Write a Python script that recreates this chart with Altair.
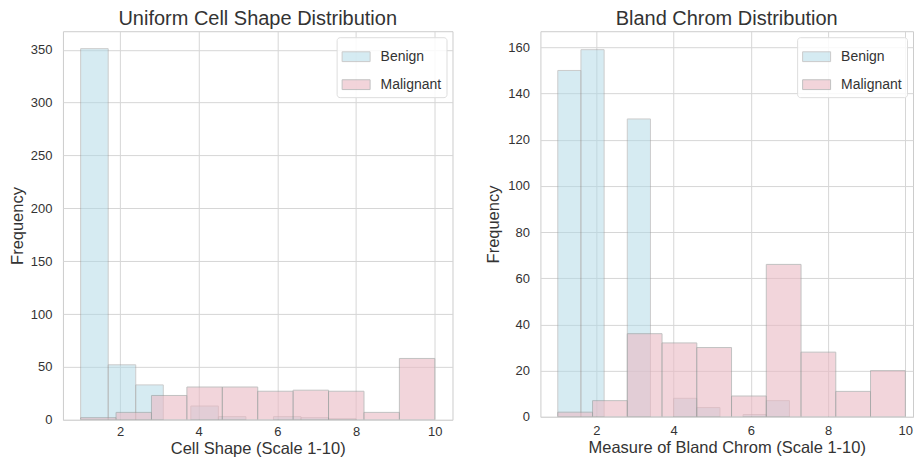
import altair as alt
import pandas as pd

# ---------------- data ----------------
status_names = ["Benign", "Malignant"]
status_colors = ["#add8e6", "#eab9c3"]
status_alpha = [0.5, 0.6]

# Uniform Cell Shape
shape_benign_edges = [1.0, 1.7, 2.4, 3.1, 3.8, 4.5, 5.2, 5.9, 6.6, 7.3, 8.0]
shape_benign_counts = [351, 52, 33, 0, 13, 3, 0, 3, 2, 1]
shape_malignant_edges = [1.0, 1.9, 2.8, 3.7, 4.6, 5.5, 6.4, 7.3, 8.2, 9.1, 10.0]
shape_malignant_counts = [2, 7, 23, 31, 31, 27, 28, 27, 7, 58]

# Bland Chromatin
chrom_benign_edges = [1.0, 1.6, 2.2, 2.8, 3.4, 4.0, 4.6, 5.2, 5.8, 6.4, 7.0]
chrom_benign_counts = [150, 159, 0, 129, 0, 8, 4, 0, 1, 7]
chrom_malignant_edges = [1.0, 1.9, 2.8, 3.7, 4.6, 5.5, 6.4, 7.3, 8.2, 9.1, 10.0]
chrom_malignant_counts = [2, 7, 36, 32, 30, 9, 66, 28, 11, 20]

x_ticks = [2, 4, 6, 8, 10]
shape_y_ticks = [0, 50, 100, 150, 200, 250, 300, 350]
chrom_y_ticks = [0, 20, 40, 60, 80, 100, 120, 140, 160]


def hist_rows(edges, counts, status):
    rows = []
    for i, c in enumerate(counts):
        if c > 0:
            rows.append({"start": edges[i], "end": edges[i + 1], "count": c,
                         "base": 0, "Status": status})
    return rows


shape_df = pd.DataFrame(
    hist_rows(shape_benign_edges, shape_benign_counts, "Benign")
    + hist_rows(shape_malignant_edges, shape_malignant_counts, "Malignant")
)
chrom_df = pd.DataFrame(
    hist_rows(chrom_benign_edges, chrom_benign_counts, "Benign")
    + hist_rows(chrom_malignant_edges, chrom_malignant_counts, "Malignant")
)

FONT = "Liberation Sans"
TXT = "#333333"


def panel(df, title, xtitle, xmax, ymax, yticks, width, height, title_offset,
          ytitle_pad, xlabel_pad, xtitle_pad):
    return (
        alt.Chart(
            df,
            title=alt.Title(title, fontSize=20, offset=title_offset, font=FONT,
                            color=TXT, fontWeight="normal", anchor="middle"),
        )
        .mark_bar(stroke="#999999", strokeWidth=1, clip=True)
        .encode(
            x=alt.X(
                "start:Q",
                scale=alt.Scale(domain=[0.55, xmax], nice=False, zero=False),
                axis=alt.Axis(values=x_ticks, format="d", title=xtitle,
                              labelPadding=xlabel_pad, titlePadding=xtitle_pad),
            ),
            x2="end:Q",
            y=alt.Y(
                "count:Q",
                stack=None,
                scale=alt.Scale(domain=[0, ymax], nice=False),
                axis=alt.Axis(values=yticks, format="d", title="Frequency",
                              labelPadding=11, titlePadding=ytitle_pad),
            ),
            y2="base:Q",
            opacity=alt.Opacity(
                "Status:N",
                scale=alt.Scale(domain=status_names, range=status_alpha),
                legend=None,
            ),
            color=alt.Color(
                "Status:N",
                scale=alt.Scale(domain=status_names, range=status_colors),
                legend=alt.Legend(
                    title=None,
                    orient="top-right",
                    offset=6,
                    fillColor="rgba(255,255,255,0.85)",
                    strokeColor="#dddddd",
                    cornerRadius=3,
                    padding=5,
                    labelFontSize=14,
                    labelFont=FONT,
                    labelColor=TXT,
                    labelOffset=10,
                    rowPadding=6,
                    symbolType="M-1,-0.35H1V0.35H-1Z",
                    symbolSize=784,
                    symbolOpacity=0.5,
                    symbolStrokeColor="#999999",
                    symbolStrokeWidth=1,
                ),
            ),
        )
        .properties(width=width, height=height)
    )


left = panel(shape_df, "Uniform Cell Shape Distribution", "Cell Shape (Scale 1-10)",
             10.45, 367.5, shape_y_ticks, 390, 389, 2, 5, 6, 2)
right = panel(chrom_df, "Bland Chrom Distribution", "Measure of Bland Chrom (Scale 1-10)",
              10.2, 167, chrom_y_ticks, 373, 386, 2, 6, 8, 2)

chart = (
    alt.hconcat(left, right, spacing=31)
    .resolve_scale(color="independent", x="independent", y="independent",
                   opacity="independent")
    .resolve_legend(color="independent")
    .properties(padding={"left": 0, "top": 0, "right": 0, "bottom": 0})
    .configure_view(stroke="#cccccc", strokeWidth=1)
    .configure_axis(
        grid=True,
        gridColor="#d6d6d6",
        gridWidth=1,
        ticks=False,
        domain=False,
        labelFont=FONT,
        titleFont=FONT,
        labelFontSize=13,
        titleFontSize=16.5,
        labelColor=TXT,
        titleColor=TXT,
        titleFontWeight="normal",
    )
)

chart.save("out.html", embed_options={"renderer": "svg", "actions": False})
